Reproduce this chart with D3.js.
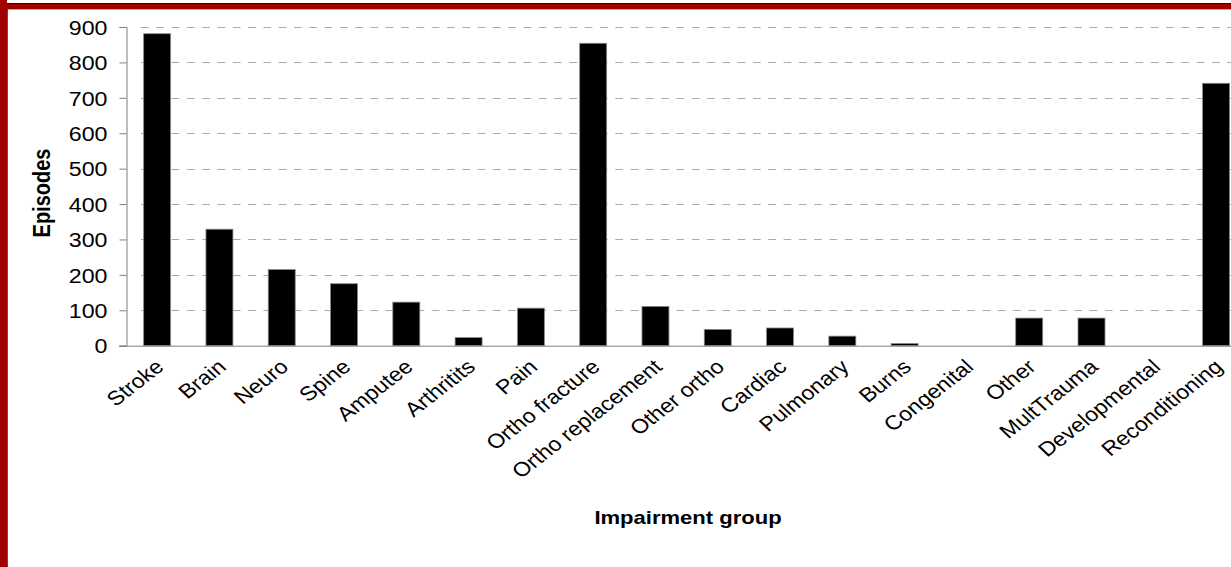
<!DOCTYPE html>
<html><head><meta charset="utf-8">
<script src="https://cdn.jsdelivr.net/npm/d3@7"></script>
<style>
html,body{margin:0;padding:0;background:#fff;}
svg{display:block;font-family:Arial,"Liberation Sans",sans-serif;}
</style></head>
<body>
<script>
const categories = ["Stroke","Brain","Neuro","Spine","Amputee","Arthritits","Pain","Ortho fracture","Ortho replacement","Other ortho","Cardiac","Pulmonary","Burns","Congenital","Other","MultTrauma","Developmental","Reconditioning"];
const episodes = [881,329,215,175,123,23,106,854,111,46,50,27,6,0,78,78,0,741];
const yTicks = [0,100,200,300,400,500,600,700,800,900];
const xTitle = "Impairment group";
const yTitle = "Episodes";

const W = 1231, H = 567;
const SX = 1.16; // horizontal stretch of the original picture
const svg = d3.select("body").append("svg").attr("width", W).attr("height", H);

// frame
svg.append("rect").attr("x",0).attr("y",0).attr("width",W).attr("height",H).attr("fill","#fff");
svg.append("rect").attr("x",0).attr("y",0).attr("width",7).attr("height",H).attr("fill","#a00000");
svg.append("rect").attr("x",0).attr("y",3).attr("width",W).attr("height",6).attr("fill","#a00000");
svg.append("rect").attr("x",7).attr("y",0).attr("width",W).attr("height",3).attr("fill","#fff");
svg.append("line").attr("x1",7).attr("x2",W).attr("y1",3.5).attr("y2",3.5).attr("stroke","#111").attr("stroke-width",1);
svg.append("line").attr("x1",7).attr("x2",W).attr("y1",9.5).attr("y2",9.5).attr("stroke","#aaa").attr("stroke-width",1);
svg.append("line").attr("x1",7.5).attr("x2",7.5).attr("y1",9).attr("y2",H).attr("stroke","#555").attr("stroke-width",1);

const x0 = 126, step = 62.29;
const x = d3.scaleBand().domain(categories).range([x0, x0 + step*categories.length]).paddingInner(0.567).paddingOuter(0.2835);
const y = d3.scaleLinear().domain([0,900]).range([345.7, 27]);

// gridlines
svg.append("g").selectAll("line").data(yTicks.filter(d=>d>0)).join("line")
  .attr("x1", 141).attr("x2", W).attr("y1", d=>Math.round(y(d))+0.5).attr("y2", d=>Math.round(y(d))+0.5)
  .attr("stroke","#ababab").attr("stroke-width",1).attr("stroke-dasharray","7.7,7.6");

// bars
svg.append("g").selectAll("rect").data(categories).join("rect")
  .attr("x", d=>x(d)).attr("width", x.bandwidth())
  .attr("y", (d,i)=>y(episodes[i])).attr("height", (d,i)=>y(0)-y(episodes[i]))
  .attr("fill","#000").attr("stroke","#888").attr("stroke-width",0.8);

// y axis
const yAxis = d3.axisLeft(y).tickValues(yTicks).tickSize(7).tickPadding(0).tickFormat(d3.format("d"));
const gy = svg.append("g").attr("transform",`translate(${x0+0.5},0)`).call(yAxis);
gy.select(".domain").attr("stroke","#808080");
gy.selectAll(".tick line").attr("stroke","#808080");
gy.selectAll(".tick text").attr("font-size",20).attr("fill","#000").attr("text-anchor","end")
  .attr("x",null).attr("dy","0.36em")
  .attr("transform", `translate(-19,0) scale(${SX},1)`);

// x axis line
const xAxis = d3.axisBottom(x).tickSize(0).tickPadding(0);
const gx = svg.append("g").attr("transform",`translate(0,${y(0)})`).call(xAxis);
gx.select(".domain").attr("stroke","#808080").attr("d", `M${x0-7},0.5H${W}`);
gx.selectAll(".tick text").attr("font-size",20).attr("fill","#000").attr("text-anchor","end")
  .attr("y",null).attr("dy","0.35em")
  .attr("transform", `translate(2.6,17.7) scale(${SX},1) rotate(-42)`);

// titles
svg.append("text").attr("transform",`translate(688,524) scale(${SX},1)`)
  .attr("text-anchor","middle").attr("font-weight","bold").attr("font-size",19).text(xTitle);
svg.append("text").attr("transform",`translate(50,193) scale(${SX},1) rotate(-90)`)
  .attr("text-anchor","middle").attr("font-weight","bold").attr("font-size",20).text(yTitle);
</script>
</body></html>
